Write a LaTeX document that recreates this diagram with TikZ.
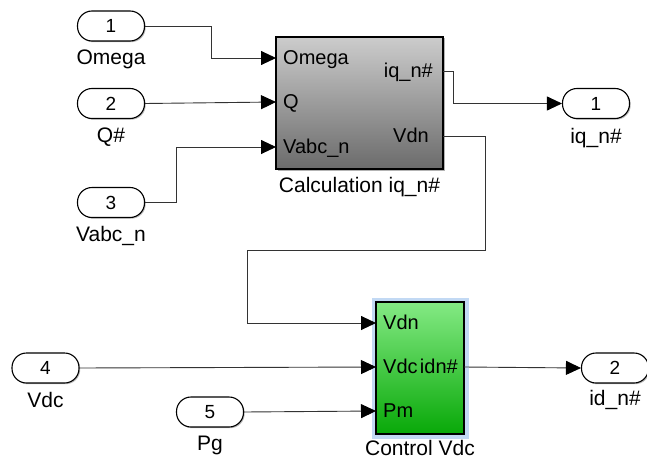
\documentclass[tikz,border=0pt]{standalone}
\usepackage{fontspec}
\setmainfont{Liberation Sans}
\usetikzlibrary{arrows.meta,shadows,calc}
\definecolor{sigcol}{HTML}{333333}
\definecolor{glow}{HTML}{C2D9F4}
\begin{document}
\begin{tikzpicture}[x=1pt,y=-1pt,
  txt/.style={font=\fontsize{20}{24}\selectfont, inner sep=0pt},
  lbl/.style={font=\fontsize{21}{25}\selectfont, inner sep=0pt},
  port/.style={draw, line width=1.1pt, fill=white, rounded corners=14.5pt,
    minimum width=67pt, minimum height=30pt, inner sep=0pt,
    font=\fontsize{19}{23}\selectfont,
    drop shadow={shadow xshift=1.2pt, shadow yshift=-1.2pt, fill=black!45, opacity=.6}},
  calcblk/.style={draw=black, line width=1.2pt, top color=black!20, bottom color=black!58,
    minimum width=167pt, minimum height=132pt, inner sep=0pt,
    drop shadow={shadow xshift=1.5pt, shadow yshift=-1.5pt, fill=black!50, opacity=.6}},
  ctrlblk/.style={draw=black, line width=1.2pt, top color={rgb,255:red,132;green,234;blue,132},
    bottom color={rgb,255:red,8;green,168;blue,8},
    minimum width=88pt, minimum height=132pt, inner sep=0pt},
  glowbox/.style={fill=glow, draw=none, minimum width=97pt, minimum height=141pt},
  sig/.style={draw=sigcol, line width=0.9pt},
  arr/.style={sig, -{Triangle[length=15pt,width=14pt,color=black]}},
]
\useasboundingbox (0,0) rectangle (647,460);

% inports
\node[port] (in1) at (111,26) {1};
\node[port] (in2) at (111,103.5) {2};
\node[port] (in3) at (111,202.5) {3};
\node[port] (in4) at (45.5,368) {4};
\node[port] (in5) at (210,412) {5};
% outports
\node[port] (out1) at (596,103.5) {1};
\node[port] (out2) at (615,368) {2};

% port labels
\node[lbl, anchor=base] (lin1) at ($(in1.south)+(0,23)$) {Omega};
\node[lbl, anchor=base] (lin2) at ($(in2.south)+(0,23)$) {Q\#};
\node[lbl, anchor=base] (lin3) at ($(in3.south)+(0,23)$) {Vabc\_n};
\node[lbl, anchor=base] (lin4) at ($(in4.south)+(0,24)$) {Vdc};
\node[lbl, anchor=base] (lin5) at ($(in5.south)+(0,23)$) {Pg};
\node[lbl, anchor=base] (lout1) at ($(out1.south)+(0,24)$) {iq\_n\#};
\node[lbl, anchor=base] (lout2) at ($(out2.south)+(0,22)$) {id\_n\#};

% calculation block
\node[calcblk] (calc) at (359.5,103) {};
\node[lbl, anchor=base] (lcalc) at ($(calc.south)+(0,23)$) {Calculation iq\_n\#};
\coordinate (cin1) at (276,58);
\coordinate (cin2) at (276,102);
\coordinate (cin3) at (276,147);
\coordinate (cout1) at (443,71);
\coordinate (cout2) at (443,136);
\node[txt, anchor=base west] (pcin1) at ($(cin1)+(7,6)$) {Omega};
\node[txt, anchor=base west] (pcin2) at ($(cin2)+(7,6)$) {Q};
\node[txt, anchor=base west] (pcin3) at ($(cin3)+(7,6)$) {Vabc\_n};
\node[txt, anchor=base east] (pcout1) at ($(cout1)+(-10,6)$) {iq\_n\#};
\node[txt, anchor=base east] (pcout2) at ($(cout2)+(-14,6)$) {Vdn};

% control block
\node[glowbox] (glowr) at (420,368) {};
\node[ctrlblk] (ctrl) at (420,368) {};
\node[lbl, anchor=base] (lctrl) at ($(ctrl.south)+(0,21)$) {Control Vdc};
\coordinate (kin1) at (376,323);
\coordinate (kin2) at (376,367);
\coordinate (kin3) at (376,411);
\coordinate (kout1) at (464,367);
\node[txt, anchor=base west] (pkin1) at ($(kin1)+(7,6)$) {Vdn};
\node[txt, anchor=base west] (pkin2) at ($(kin2)+(7,6)$) {Vdc};
\node[txt, anchor=base west] (pkin3) at ($(kin3)+(7,6)$) {Pm};
\node[txt, anchor=base east] (pkout1) at ($(kout1)+(-6,6)$) {idn\#};

% connectors
\draw[arr] (in1.east) -| (211,58) -- (cin1);
\draw[arr] (in2.east) -- (cin2);
\draw[arr] (in3.east) -| (176,147) -- (cin3);
\draw[arr] (cout1) -| (453,103.5) -- (out1.west);
\draw[arr] (cout2) -| (485,250) -| (247,323) -- (kin1);
\draw[arr] (in4.east) -- (kin2);
\draw[arr] (in5.east) -- (kin3);
\draw[arr] (kout1) -- (out2.west);
\end{tikzpicture}
\end{document}
